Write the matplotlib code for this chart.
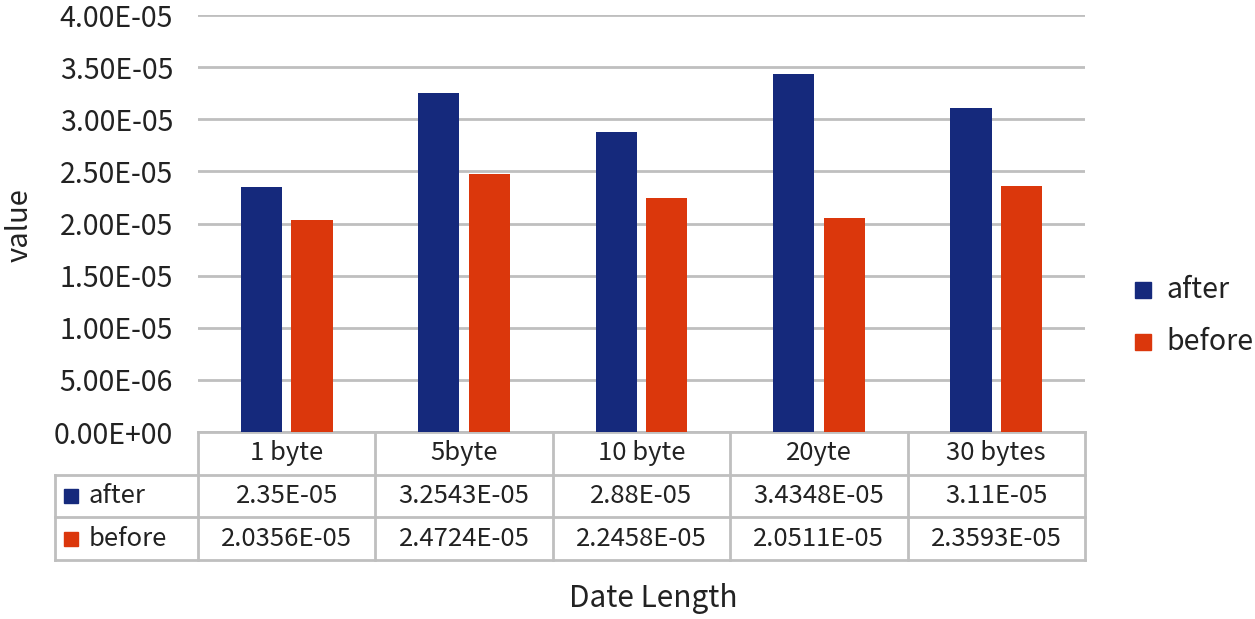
import matplotlib.pyplot as plt
import numpy as np
from matplotlib.transforms import blended_transform_factory

categories = ["1 byte", "5byte", "10 byte", "20yte", "30 bytes"]
after = [2.35e-05, 3.2543e-05, 2.88e-05, 3.4348e-05, 3.11e-05]
before = [2.0356e-05, 2.4724e-05, 2.2458e-05, 2.0511e-05, 2.3593e-05]
after_labels = ["2.35E-05", "3.2543E-05", "2.88E-05", "3.4348E-05", "3.11E-05"]
before_labels = ["2.0356E-05", "2.4724E-05", "2.2458E-05", "2.0511E-05", "2.3593E-05"]
series_names = ["after", "before"]
yticks = [0, 5e-6, 1e-5, 1.5e-5, 2e-5, 2.5e-5, 3e-5, 3.5e-5, 4e-5]
ytick_labels = ["0.00E+00", "5.00E-06", "1.00E-05", "1.50E-05", "2.00E-05",
                "2.50E-05", "3.00E-05", "3.50E-05", "4.00E-05"]

plt.rcParams['font.family'] = ['Noto Sans CJK SC', 'DejaVu Sans']
C_AFTER = '#15297C'
C_BEFORE = '#DB370C'
GRID = '#BFBFBF'
TXT = '#222222'

W, H = 1255, 619
fig = plt.figure(figsize=(W / 100, H / 100), dpi=100)
L, R, T, B = 198, 1085, 15, 432
ax = fig.add_axes([L / W, 1 - B / H, (R - L) / W, (B - T) / H])

x = np.arange(len(categories))
bw = 0.232
off = 0.143
ax.bar(x - off, after, bw, color=C_AFTER, zorder=3)
ax.bar(x + off, before, bw, color=C_BEFORE, zorder=3)
ax.set_xlim(-0.5, len(categories) - 0.5)
ax.set_ylim(0, 4e-5)
ax.set_yticks(yticks)
ax.set_yticklabels(ytick_labels, fontsize=20.5, color=TXT)
ax.set_xticks([])
ax.yaxis.grid(True, color=GRID, linewidth=2, zorder=0)
for s in ax.spines.values():
    s.set_visible(False)
ax.tick_params(axis='y', length=0, pad=18)

# table
row_h = 42.7 / (B - T)  # axes fraction
lw = 2
bt = blended_transform_factory(ax.transData, ax.transAxes)
cat_px = (R - L) / len(categories)
label_left = -0.5 - (198 - 55) / cat_px
n = len(categories)
ax.plot([-0.5, n - 0.5], [0, 0], color=GRID, lw=lw, transform=bt, clip_on=False)
for k in (1, 2, 3):
    ax.plot([label_left, n - 0.5], [-k * row_h] * 2, color=GRID, lw=lw, transform=bt, clip_on=False)
for i in range(n + 1):
    ax.plot([i - 0.5] * 2, [0, -3 * row_h], color=GRID, lw=lw, transform=bt, clip_on=False)
ax.plot([label_left] * 2, [-row_h, -3 * row_h], color=GRID, lw=lw, transform=bt, clip_on=False)

fs = 18.5
for i, c in enumerate(categories):
    ax.text(i, -0.5 * row_h, c, ha='center', va='center', fontsize=fs, color=TXT, transform=bt)
    ax.text(i, -1.5 * row_h, after_labels[i], ha='center', va='center', fontsize=fs, color=TXT, transform=bt)
    ax.text(i, -2.5 * row_h, before_labels[i], ha='center', va='center', fontsize=fs, color=TXT, transform=bt)

ah = B - T
for k, (name, col) in enumerate(zip(series_names, [C_AFTER, C_BEFORE])):
    yy = -(1.5 + k) * row_h
    sq_x = label_left + (64 - 55) / cat_px
    ax.add_patch(plt.Rectangle((sq_x, yy - 7 / ah), 14 / cat_px, 14 / ah, color=col,
                               transform=bt, clip_on=False))
    ax.text(label_left + (89 - 55) / cat_px, yy, name, ha='left', va='center', fontsize=fs,
            color=TXT, transform=bt)

# axis labels
fig.text(20 / W, 1 - 225 / H, "value", rotation=90, ha='center', va='center', fontsize=21, color=TXT)
fig.text(653 / W, 1 - 598 / H, "Date Length", ha='center', va='center', fontsize=21.5, color=TXT)

# legend
for name, col, yy in zip(series_names, [C_AFTER, C_BEFORE], [290, 342]):
    fig.patches.append(plt.Rectangle((1135 / W, 1 - (yy + 8) / H), 16 / W, 16 / H,
                                     transform=fig.transFigure, color=col))
    fig.text(1166 / W, 1 - yy / H, name, ha='left', va='center', fontsize=20.5, color=TXT)

fig.savefig("out.png", dpi=100)
